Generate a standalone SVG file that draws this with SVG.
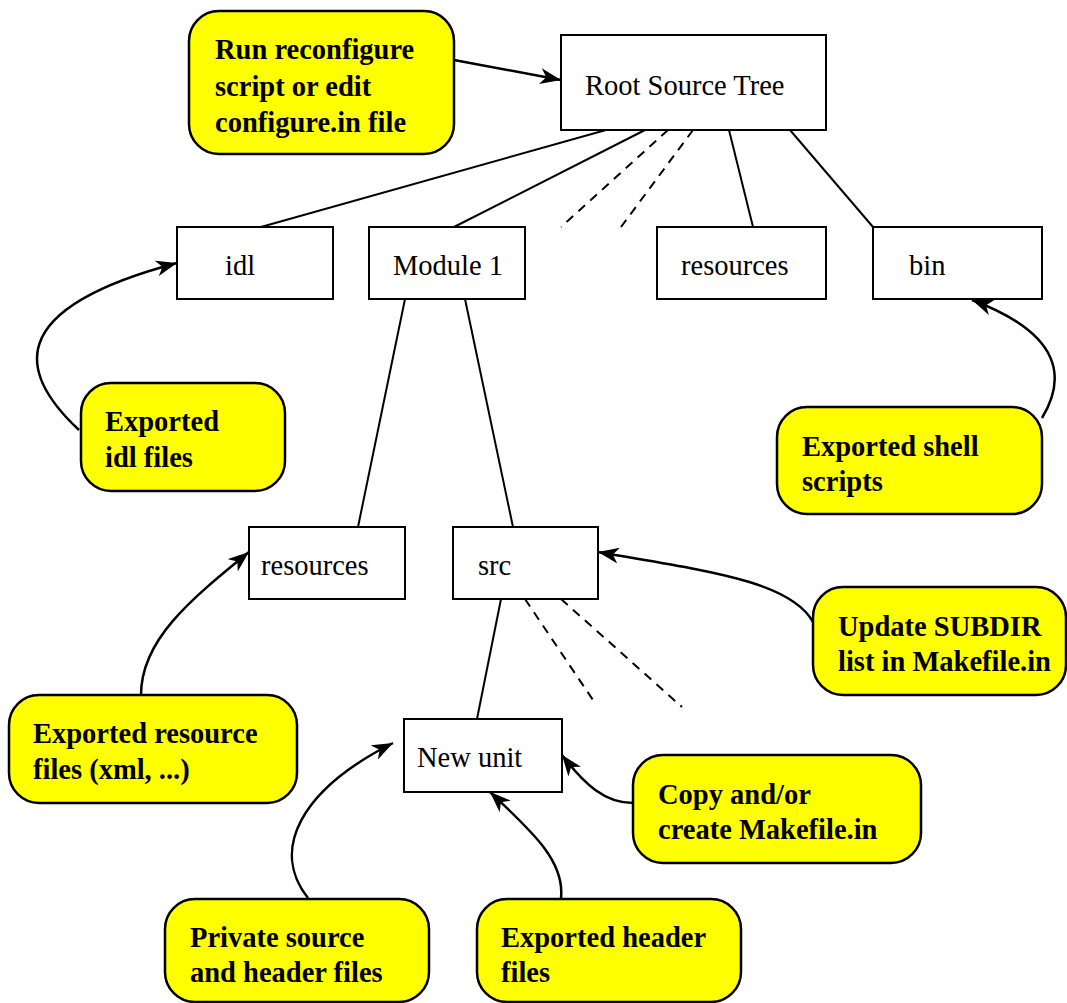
<svg xmlns="http://www.w3.org/2000/svg" width="1067" height="1003" viewBox="0 0 1067 1003">
<defs>
<marker id="arr" markerUnits="userSpaceOnUse" markerWidth="22" markerHeight="16" refX="21" refY="8" orient="auto">
<path d="M0,0 L21,8 L0,16 L6,8 z" fill="#000"/>
</marker>
<style>
.box{fill:#fff;stroke:#000;stroke-width:2}
.call{fill:#ffff00;stroke:#000;stroke-width:2.5}
.t{font-family:"Liberation Serif","Times New Roman",serif;font-size:28.5px;fill:#000}
.b{font-family:"Liberation Serif","Times New Roman",serif;font-size:28.5px;font-weight:bold;fill:#000}
.ln{stroke:#000;stroke-width:2;fill:none}
.dash{stroke:#000;stroke-width:2;fill:none;stroke-dasharray:9,7}
.ar{stroke:#000;stroke-width:2.5;fill:none;marker-end:url(#arr)}
</style>
</defs>
<rect width="1067" height="1003" fill="#fff"/>
<g id="connectors">
<line class="ln" x1="606" y1="130" x2="261" y2="227"/>
<line class="ln" x1="645" y1="130" x2="454" y2="227"/>
<line class="dash" x1="668" y1="130" x2="561" y2="227"/>
<line class="dash" x1="693" y1="130" x2="621" y2="227"/>
<line class="ln" x1="729" y1="130" x2="753" y2="227"/>
<line class="ln" x1="790" y1="130" x2="873" y2="227"/>
<line class="ln" x1="405" y1="299" x2="358" y2="527"/>
<line class="ln" x1="465" y1="299" x2="513" y2="527"/>
<line class="ln" x1="501" y1="599" x2="477" y2="719"/>
<line class="dash" x1="525" y1="599" x2="595" y2="703"/>
<line class="dash" x1="561" y1="599" x2="682" y2="707"/>
<path class="ar" d="M454,60 L561,80"/>
<path class="ar" d="M79,430 C20,375 0,310 177,263"/>
<path class="ar" d="M1042,418 C1065,380 1065,335 972,300"/>
<path class="ar" d="M141,695 C141,640 190,600 249,552"/>
<path class="ar" d="M813,622 C790,580 700,570 598,552"/>
<path class="ar" d="M633,803 C605,803 585,785 562,755"/>
<path class="ar" d="M561,898 C565,860 530,830 490,792"/>
<path class="ar" d="M308,898 C270,850 300,790 393,743"/>
</g>
<g id="root"><rect class="box" x="561" y="35" width="265" height="95"/><text class="t" x="585" y="95">Root Source Tree</text></g>
<g id="idl"><rect class="box" x="177" y="227" width="156" height="72"/><text class="t" x="225" y="275">idl</text></g>
<g id="module1"><rect class="box" x="369" y="227" width="156" height="72"/><text class="t" x="393" y="275">Module 1</text></g>
<g id="resources-top"><rect class="box" x="657" y="227" width="169" height="72"/><text class="t" x="681" y="275">resources</text></g>
<g id="bin"><rect class="box" x="873" y="227" width="169" height="72"/><text class="t" x="909" y="275">bin</text></g>
<g id="resources-mod"><rect class="box" x="249" y="527" width="156" height="72"/><text class="t" x="261" y="575">resources</text></g>
<g id="src"><rect class="box" x="453" y="527" width="145" height="72"/><text class="t" x="478" y="575">src</text></g>
<g id="newunit"><rect class="box" x="404" y="719" width="158" height="73"/><text class="t" x="417" y="767">New unit</text></g>
<g id="c-reconfigure"><rect class="call" x="189" y="11" width="265" height="143" rx="30"/><text class="b" x="215" y="59">Run reconfigure</text><text class="b" x="215" y="96">script or edit</text><text class="b" x="215" y="132">configure.in file</text></g>
<g id="c-idl"><rect class="call" x="81" y="383" width="204" height="108" rx="30"/><text class="b" x="105" y="431">Exported</text><text class="b" x="105" y="467">idl files</text></g>
<g id="c-shell"><rect class="call" x="777" y="407" width="265" height="107" rx="30"/><text class="b" x="802" y="456">Exported shell</text><text class="b" x="802" y="491">scripts</text></g>
<g id="c-resource"><rect class="call" x="9" y="695" width="288" height="108" rx="30"/><text class="b" x="33" y="743">Exported resource</text><text class="b" x="33" y="779">files (xml, ...)</text></g>
<g id="c-subdir"><rect class="call" x="813" y="587" width="253" height="108" rx="30"/><text class="b" x="838" y="636">Update SUBDIR</text><text class="b" x="838" y="671">list in Makefile.in</text></g>
<g id="c-copy"><rect class="call" x="633" y="755" width="288" height="108" rx="30"/><text class="b" x="658" y="804">Copy and/or</text><text class="b" x="658" y="839">create Makefile.in</text></g>
<g id="c-private"><rect class="call" x="165" y="899" width="264" height="103" rx="30"/><text class="b" x="190" y="947">Private source</text><text class="b" x="190" y="982">and header files</text></g>
<g id="c-header"><rect class="call" x="477" y="899" width="264" height="103" rx="30"/><text class="b" x="501" y="947">Exported header</text><text class="b" x="501" y="982">files</text></g>
</svg>
